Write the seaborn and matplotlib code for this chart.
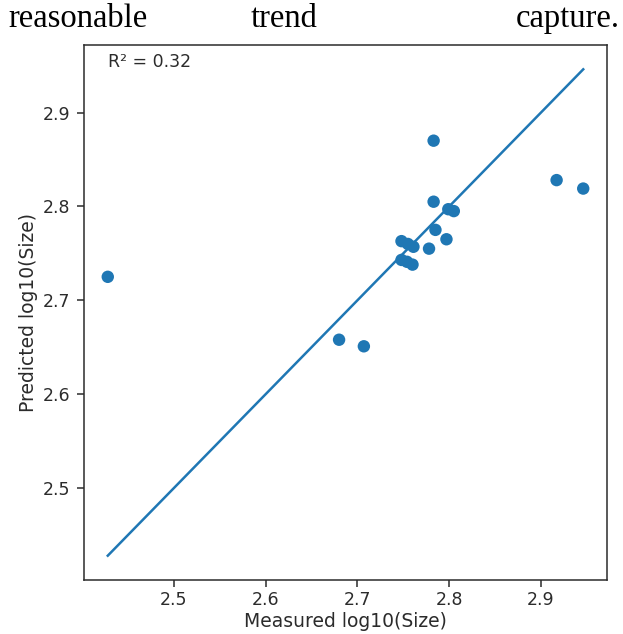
import matplotlib
matplotlib.use("Agg")
import matplotlib.pyplot as plt
import seaborn as sns
import numpy as np
import pandas as pd

measured = [2.428, 2.680, 2.707, 2.783, 2.783, 2.785, 2.917, 2.946, 2.799, 2.805,
            2.797, 2.778, 2.748, 2.755, 2.761, 2.748, 2.754, 2.760]
predicted = [2.725, 2.658, 2.651, 2.870, 2.805, 2.775, 2.828, 2.819, 2.797, 2.795,
             2.765, 2.755, 2.763, 2.760, 2.757, 2.743, 2.741, 2.738]
r2_text = "R² = 0.32"
x_label = "Measured log10(Size)"
y_label = "Predicted log10(Size)"
caption_words = ["reasonable", "trend", "capture."]

df = pd.DataFrame({"measured": measured, "predicted": predicted})
lo = min(min(measured), min(predicted))
hi = max(max(measured), max(predicted))
line_df = pd.DataFrame({"x": [lo, hi], "y": [lo, hi]})

plt.rcParams["font.family"] = ["DejaVu Sans"]
ink = "#2b2b2b"
plt.rcParams.update({
    "axes.edgecolor": ink, "xtick.color": ink, "ytick.color": ink,
    "text.color": ink, "axes.labelcolor": ink,
})

fig = plt.figure(figsize=(6.23, 6.34), dpi=100)
ax = fig.add_axes([84 / 623, 1 - 580 / 634, (607 - 84) / 623, (580 - 45) / 634])

blue = "#1f77b4"
sns.scatterplot(data=df, x="measured", y="predicted", ax=ax, s=80, color=blue,
                edgecolor="none", linewidth=0, zorder=3)
sns.lineplot(data=line_df, x="x", y="y", ax=ax, color=blue, linewidth=1.8, zorder=2)

ax.set_xticks([2.5, 2.6, 2.7, 2.8, 2.9])
ax.set_yticks([2.5, 2.6, 2.7, 2.8, 2.9])
ax.tick_params(labelsize=12.5, length=5, width=1.1)
ax.tick_params(axis="x", pad=3)
ax.tick_params(axis="y", pad=5)
ax.set_xlabel(x_label, fontsize=13.5, labelpad=2)
ax.set_ylabel(y_label, fontsize=13.5, labelpad=3)
for sp in ax.spines.values():
    sp.set_linewidth(1.1)

ax.text(0.046, 0.985, r2_text, transform=ax.transAxes, fontsize=12.5,
        ha="left", va="top")

cap_font = dict(family=["Liberation Serif"], fontsize=23.5, color="black", va="baseline")
fig.text(8 / 623, 1 - 27 / 634, caption_words[0], ha="left", **cap_font)
fig.text(284 / 623, 1 - 27 / 634, caption_words[1], ha="center", **cap_font)
fig.text(620 / 623, 1 - 27 / 634, caption_words[2], ha="right", **cap_font)

fig.savefig("out.png", dpi=100)
